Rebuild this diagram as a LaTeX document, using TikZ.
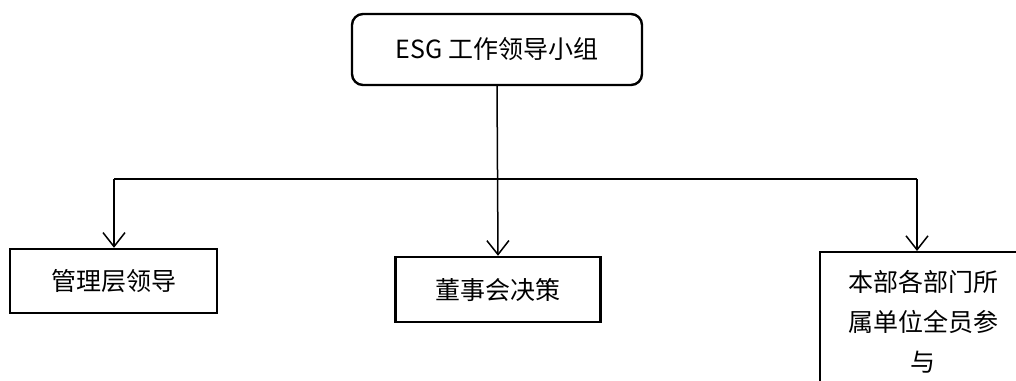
\documentclass[tikz,border=0pt]{standalone}
\usepackage{fontspec}
\setmainfont{Noto Sans CJK SC}
\usetikzlibrary{arrows.meta}
\tikzset{
  box/.style={draw=black, line width=2.4pt, fill=white, inner sep=0pt, font=\fontsize{25}{40}\selectfont, align=center},
  conn/.style={draw=black, line width=1.5pt},
  arr/.style={conn, -{Straight Barb[length=14pt,width=22pt,line width=1.5pt]}}
}
\begin{document}
\begin{tikzpicture}[x=1pt,y=-1pt]
\useasboundingbox (0,0) rectangle (1016,380);
\clip (0,0) rectangle (1016,380);
\node[box, rounded corners=11pt, minimum width=290pt, minimum height=71pt] (top) at (497,49.5) {ESG 工作领导小组};
\node[box, minimum width=207pt, minimum height=64pt] (left) at (113.5,281) {管理层领导};
\node[box, minimum width=205pt, minimum height=65pt] (mid) at (498,289.5) {董事会决策};
\node[box, anchor=north west, minimum width=206pt, text width=200pt, inner ysep=18pt] (right) at (819,251) {本部各部门所\\属单位全员参\\与};
\coordinate (hl) at (114,179);
\coordinate (hr) at (917,179);
\draw[conn] (hl) -- (hr);
\draw[arr] (top.south) -- (mid.north);
\draw[arr] (hl) -- (hl |- left.north);
\draw[arr] (hr) -- (hr |- right.north);
\end{tikzpicture}
\end{document}
